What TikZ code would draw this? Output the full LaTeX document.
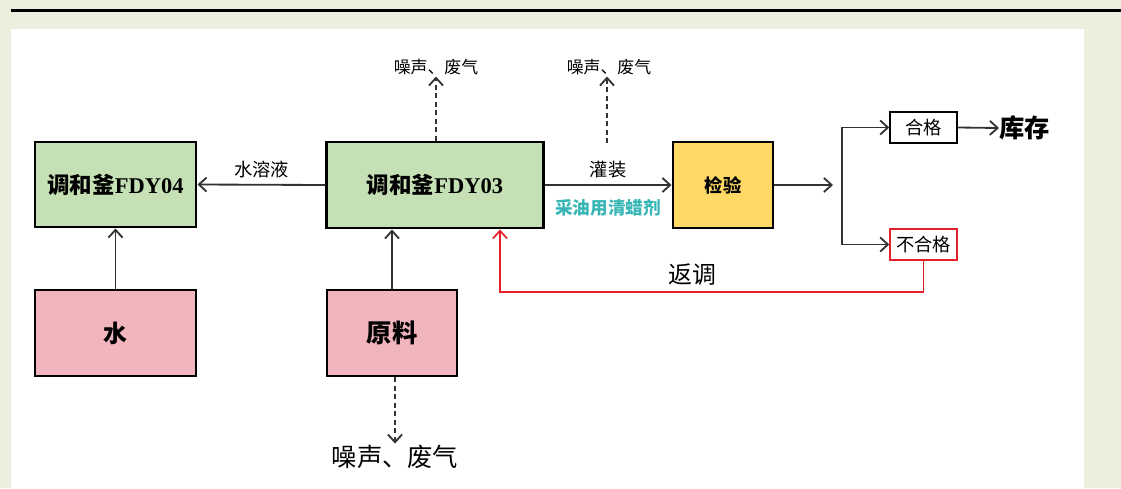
\documentclass[tikz,border=0pt]{standalone}
\usepackage{fontspec}
\setmainfont{Noto Sans CJK SC}
\newfontfamily\fdyfont{Liberation Serif}
\usetikzlibrary{arrows.meta}
\definecolor{pagegrey}{RGB}{235,239,222}
\definecolor{tankgreen}{RGB}{197,224,180}
\definecolor{feedpink}{RGB}{241,181,190}
\definecolor{testyellow}{RGB}{255,216,102}
\definecolor{agentteal}{RGB}{56,182,182}
\definecolor{backred}{RGB}{228,32,40}
\newcommand{\fdy}[1]{{\fdyfont\bfseries #1}}

\begin{document}
\begin{tikzpicture}[x=0.025cm,y=-0.025cm,
    >={Straight Barb[length=5.5pt,width=10pt]},
    tank/.style={draw=black,line width=2.1pt,fill=tankgreen,inner sep=0pt,font=\fontsize{16}{18}\selectfont\bfseries},
    feed/.style={draw=black,line width=2.1pt,fill=feedpink,inner sep=0pt,font=\fontsize{17}{20}\selectfont\bfseries},
    tag/.style={draw=black,line width=1pt,fill=white,inner sep=0pt,minimum width=1.675cm,minimum height=0.775cm,font=\fontsize{13}{15}\selectfont},
    note/.style={inner sep=1pt,font=\fontsize{12}{14}\selectfont},
    flow/.style={->,line width=1.3pt,draw=black!80},
    vent/.style={->,line width=1.3pt,draw=black!80,dash pattern=on 3.5pt off 2.5pt}]
  % page
  \useasboundingbox (0,0) rectangle (1121,488);
  \fill[pagegrey] (0,0) rectangle (1121,488);
  \fill[white] (11,29) rectangle (1084,488);
  \fill[black] (11,9) rectangle (1121,12);
  % boxes
  \node[tank,minimum width=4.025cm,minimum height=2.125cm] (fdy04) at (115.5,184.5) {调和釜\fdy{FDY04}};
  \node[tank,minimum width=5.4cm,minimum height=2.15cm] (fdy03) at (435,185) {调和釜\fdy{FDY03}};
  \node[tank,fill=testyellow,minimum width=2.5cm,minimum height=2.15cm,font=\fontsize{13}{15}\selectfont\bfseries] (check) at (723,185) {检验};
  \node[feed,minimum width=4.025cm,minimum height=2.15cm] (water) at (115.5,333) {水};
  \node[feed,minimum width=3.25cm,minimum height=2.15cm,font=\fontsize{18}{20}\selectfont\bfseries] (raw) at (392,333) {原料};
  \node[tag] (pass) at (923.5,127.5) {合格};
  \node[tag,draw=backred] (fail) at (923.5,244.5) {不合格};
  \node[anchor=west,inner sep=0pt,font=\fontsize{18}{20}\selectfont\bfseries] (store) at (999,128) {库存};
  % emissions
  \node[note] (noise1) at (436,67) {噪声、废气};
  \node[note] (noise2) at (609,67) {噪声、废气};
  \node[note,font=\fontsize{18}{20}\selectfont] (noise3) at (395,457) {噪声、废气};
  \coordinate (vent2) at (607,143);
  \coordinate (split) at (833,185);
  \coordinate (fork) at (842,185);
  \coordinate (back) at (500,292);
  % connectors
  \draw[flow] (fdy03.west) -- node[above=1pt,font=\fontsize{13}{15}\selectfont] (sol) {水溶液} (fdy04.east);
  \draw[flow] (water.north) -- (fdy04.south);
  \draw[flow] (raw.north) -- (raw.north |- fdy03.south);
  \draw[flow] (fdy03.east) -- node[above=1pt,font=\fontsize{13}{15}\selectfont] (fill) {灌装}
    node[below=6pt,text=agentteal,font=\fontsize{12.5}{14}\selectfont\bfseries] (agent) {采油用清蜡剂} (check.west);
  \draw[vent] (noise1.south |- fdy03.north) -- (noise1.south);
  \draw[vent] (vent2) -- (vent2 |- noise2.south);
  \draw[vent] (noise3.north |- raw.south) -- (noise3.north);
  \draw[flow] (check.east) -- (split);
  \draw[flow,<->] (pass.west) -| (fork) |- (fail.west);
  \draw[flow] (pass.east) -- (store.west);
  \draw[->,line width=1.2pt,draw=backred] (fail.south) |- node[pos=0.773,above=1pt,text=black,font=\fontsize{17}{19}\selectfont] (redo) {返调} (back) -- (back |- fdy03.south);
\end{tikzpicture}
\end{document}
